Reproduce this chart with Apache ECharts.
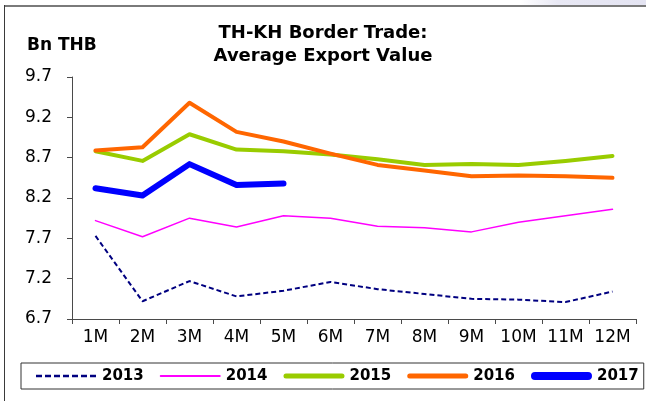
<!DOCTYPE html>
<html>
<head>
<meta charset="utf-8">
<script src="https://cdn.jsdelivr.net/npm/echarts@6/dist/echarts.min.js"></script>
<style>
  html, body { margin: 0; padding: 0; background: #ffffff; }
  #chart { width: 646px; height: 401px; }
</style>
</head>
<body>
<div id="chart"></div>
<script>
// Average monthly export value across the Thailand–Cambodia border, Bn THB
const months = ['1M', '2M', '3M', '4M', '5M', '6M', '7M', '8M', '9M', '10M', '11M', '12M'];
const y2013 = [7.73, 6.92, 7.17, 6.98, 7.05, 7.16, 7.07, 7.01, 6.95, 6.94, 6.91, 7.04];
const y2014 = [7.92, 7.72, 7.95, 7.84, 7.98, 7.95, 7.85, 7.83, 7.78, 7.90, 7.98, 8.06];
const y2015 = [8.78, 8.66, 8.99, 8.80, 8.78, 8.74, 8.68, 8.61, 8.62, 8.61, 8.66, 8.72];
const y2016 = [8.79, 8.83, 9.38, 9.02, 8.90, 8.75, 8.61, 8.54, 8.47, 8.48, 8.47, 8.45];
const y2017 = [8.32, 8.23, 8.62, 8.36, 8.38];
const yTicks = { min: 6.7, max: 9.7, step: 0.5 };

const FONT = 'DejaVu Sans';
const axisColor = '#4a4a4a';

// Legend swatches: a bar of the series' stroke thickness inside a 61x16 box.
const SW = 61, SH = 16;
function boxCorners() {
  return 'M0 0 L0.01 0 L0 0.01 Z M' + SW + ' ' + SH + ' L' + (SW - 0.01) + ' ' + SH + ' L' + SW + ' ' + (SH - 0.01) + ' Z';
}
function barIcon(t) {
  const r = t / 2, y1 = SH / 2 - r, y2 = SH / 2 + r;
  return 'path://' + boxCorners() +
    ' M' + r + ' ' + y1 + ' L' + (SW - r) + ' ' + y1 +
    ' A' + r + ' ' + r + ' 0 0 1 ' + (SW - r) + ' ' + y2 +
    ' L' + r + ' ' + y2 +
    ' A' + r + ' ' + r + ' 0 0 1 ' + r + ' ' + y1 + ' Z';
}
function dashIcon(t, dash, gap) {
  const y1 = SH / 2 - t / 2, y2 = SH / 2 + t / 2;
  let p = 'path://' + boxCorners();
  for (let x = 0; x + dash <= SW + 0.01; x += dash + gap) {
    p += ' M' + x + ' ' + y1 + ' L' + (x + dash) + ' ' + y1 + ' L' + (x + dash) + ' ' + y2 + ' L' + x + ' ' + y2 + ' Z';
  }
  return p;
}

const chart = echarts.init(document.getElementById('chart'), null, { renderer: 'canvas' });

function lineSeries(name, data, color, width, dash) {
  return {
    name: name,
    type: 'line',
    data: data,
    symbol: 'none',
    showSymbol: false,
    smooth: false,
    animation: false,
    lineStyle: {
      color: color,
      width: width,
      type: dash || 'solid',
      cap: dash ? 'butt' : 'round',
      join: 'round'
    },
    itemStyle: { color: color }
  };
}

chart.setOption({
  animation: false,
  backgroundColor: '#ffffff',
  title: [
    {
      text: 'TH-KH Border Trade:\nAverage Export Value',
      left: 'center',
      top: 22,
      padding: 0,
      textStyle: {
        fontFamily: FONT,
        fontSize: 18,
        fontWeight: 'bold',
        color: '#000000',
        lineHeight: 23,
        align: 'center'
      }
    },
    {
      text: 'Bn THB',
      left: 27,
      top: 37,
      padding: 0,
      textStyle: {
        fontFamily: FONT,
        fontSize: 17,
        fontWeight: 'bold',
        color: '#000000'
      }
    }
  ],
  graphic: [
    {
      type: 'rect',
      shape: { x: 520, y: 0, width: 126, height: 5 },
      style: {
        fill: {
          type: 'linear', x: 0, y: 0, x2: 1, y2: 0,
          colorStops: [
            { offset: 0, color: 'rgba(232,232,244,0)' },
            { offset: 0.3, color: 'rgba(232,232,244,1)' },
            { offset: 1, color: 'rgba(228,228,242,1)' }
          ]
        }
      },
      silent: true
    },
    {
      type: 'line',
      shape: { x1: 4, y1: 6, x2: 646, y2: 6 },
      style: { stroke: '#7a7a7a', lineWidth: 2 },
      silent: true
    },
    {
      type: 'line',
      shape: { x1: 4.5, y1: 5, x2: 4.5, y2: 401 },
      style: { stroke: '#3a3a3a', lineWidth: 1 },
      silent: true
    }
  ],
  legend: {
    data: [
      { name: '2013', icon: dashIcon(2.5, 6, 3) },
      { name: '2014', icon: barIcon(2) },
      { name: '2015', icon: barIcon(5) },
      { name: '2016', icon: barIcon(5) },
      { name: '2017', icon: barIcon(8) }
    ],
    left: 21,
    top: 363,
    padding: [5, 5, 5, 15],
    itemGap: 16,
    itemWidth: SW,
    itemHeight: SH,
    itemStyle: { borderWidth: 0 },
    borderColor: '#333333',
    borderWidth: 1,
    backgroundColor: '#ffffff',
    textStyle: {
      fontFamily: FONT,
      fontSize: 15,
      fontWeight: 'bold',
      color: '#000000'
    }
  },
  grid: {
    left: 72,
    right: 10,
    top: 77,
    bottom: 82,
    containLabel: false
  },
  xAxis: {
    type: 'category',
    data: months,
    boundaryGap: true,
    axisLine: { show: true, lineStyle: { color: axisColor, width: 1 } },
    axisTick: { show: true, length: 5, alignWithLabel: false, lineStyle: { color: axisColor } },
    axisLabel: {
      margin: 10,
      interval: 0,
      fontFamily: FONT,
      fontSize: 17,
      color: '#000000'
    },
    splitLine: { show: false }
  },
  yAxis: {
    type: 'value',
    min: yTicks.min,
    max: yTicks.max,
    interval: yTicks.step,
    axisLine: { show: true, lineStyle: { color: axisColor, width: 1 } },
    axisTick: { show: true, length: 5, lineStyle: { color: axisColor } },
    axisLabel: {
      margin: 20,
      fontFamily: FONT,
      fontSize: 17,
      color: '#000000',
      formatter: function (v) { return v.toFixed(1); }
    },
    splitLine: { show: false }
  },
  series: [
    lineSeries('2013', y2013, '#000080', 2, [5, 3]),
    lineSeries('2014', y2014, '#ff00ff', 1.5),
    lineSeries('2015', y2015, '#99cc00', 4),
    lineSeries('2016', y2016, '#ff6600', 4),
    lineSeries('2017', y2017, '#0000ff', 6)
  ]
});
</script>
</body>
</html>
